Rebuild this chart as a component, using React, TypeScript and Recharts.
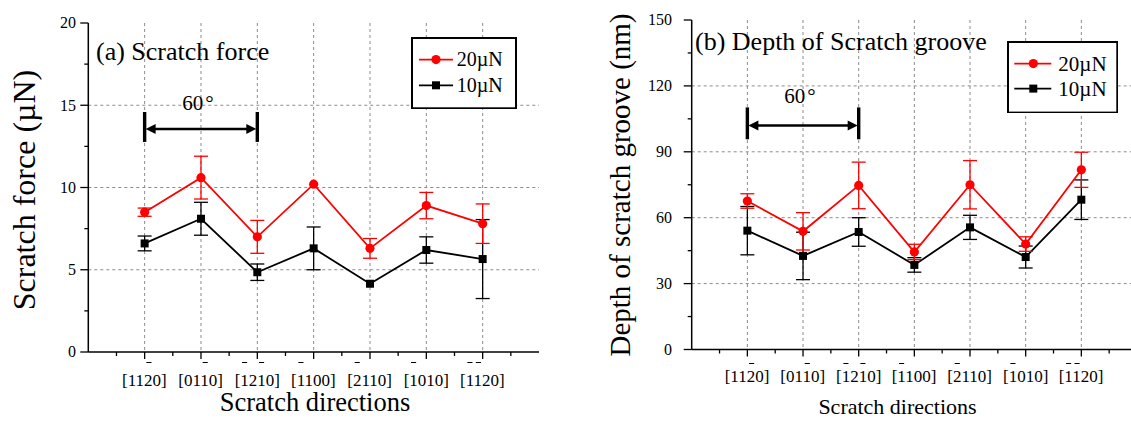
import React from 'react';
import { LineChart, Line, XAxis, YAxis, ErrorBar, CartesianGrid, ReferenceLine, ReferenceDot, Legend } from 'recharts';

const FONT = '"Liberation Serif", "Times New Roman", Times, serif';
const RED = '#ff0000';
const INK = '#000000';
const GRID = '#8c8c8c';
const serif = { fontFamily: FONT };

// scratch directions; a "-" puts an overbar on the next digit
const directions = ['[11-20]', '[01-10]', '[-12-10]', '[-1100]', '[-2110]', '[-1010]', '[-1-120]'];

// (a) scratch force, µN
const force20 = [8.5, 10.6, 7.0, 10.2, 6.3, 8.9, 7.8];
const force20Err = [0.25, 1.3, 1.0, 0.0, 0.6, 0.8, 1.2];
const force10 = [6.6, 8.1, 4.85, 6.3, 4.15, 6.2, 5.65];
const force10Err = [0.45, 1.0, 0.5, 1.3, 0.0, 0.8, 2.4];

// (b) depth of scratch groove, nm
const depth20 = [67.6, 53.8, 74.7, 44.4, 75.0, 48.0, 81.8];
const depth20Err = [3.3, 8.5, 10.6, 3.5, 11.0, 3.3, 8.0];
const depth10 = [54.1, 42.6, 53.5, 38.5, 55.6, 42.1, 68.2];
const depth10Err = [11.0, 10.8, 6.5, 3.3, 5.5, 5.0, 9.0];

const forceTicks = [0, 5, 10, 15, 20];
const depthTicks = [0, 30, 60, 90, 120, 150];
const legendLabels = ['20µN', '10µN'];

const withMinor = (major: number[]) =>
  major.flatMap((v, i) => (i === 0 ? [v] : [(major[i - 1] + v) / 2, v]));

const xMajor = directions.map((_, i) => i + 1);
const xMax = directions.length + 1;
const xTicks = withMinor([0, ...xMajor, xMax]).filter((v) => v > 0 && v < xMax);

const isMajor = (v: number, step: number) => Math.abs(v / step - Math.round(v / step)) < 1e-6;

const parseMiller = (s: string) => {
  const out: { ch: string; bar: boolean }[] = [];
  let bar = false;
  for (const ch of s) {
    if (ch === '-') { bar = true; continue; }
    out.push({ ch, bar });
    bar = false;
  }
  return out;
};

// bottom axis: outward ticks + Miller index labels with overbars
const XTick = (props: any) => {
  const { x, y, payload, fs, ldy, bdy } = props;
  const v = payload.value as number;
  if (!isMajor(v, 1)) {
    return <line x1={x} x2={x} y1={y} y2={y + 4} stroke={INK} strokeWidth={1.3} />;
  }
  const chars = parseMiller(directions[Math.round(v) - 1]);
  const widths = chars.map((c) => (c.ch === '[' || c.ch === ']' ? 0.333 : 0.5) * fs);
  const total = widths.reduce((a, b) => a + b, 0);
  let cx = x - total / 2;
  const bars: React.ReactNode[] = [];
  chars.forEach((c, i) => {
    if (c.bar) {
      bars.push(
        <line key={i} x1={cx + widths[i] * 0.2} x2={cx + widths[i] * 0.8} y1={y + bdy} y2={y + bdy} stroke={INK} strokeWidth={1} />
      );
    }
    cx += widths[i];
  });
  return (
    <g>
      <line x1={x} x2={x} y1={y} y2={y + 7} stroke={INK} strokeWidth={1.3} />
      <text x={x - total / 2} y={y + ldy} fontSize={fs} style={serif} fill={INK} textAnchor="start">
        {chars.map((c) => c.ch).join('')}
      </text>
      {bars}
    </g>
  );
};

const TopTick = (props: any) => {
  const { x, y, payload } = props;
  const len = isMajor(payload.value, 1) ? 5 : 3;
  return <line x1={x} x2={x} y1={y} y2={y + len} stroke={INK} strokeWidth={1.3} />;
};

const YTick = (props: any) => {
  const { x, y, payload, step, gap } = props;
  const major = isMajor(payload.value, step);
  return (
    <g>
      <line x1={x - (major ? 8 : 4)} x2={x} y1={y} y2={y} stroke={INK} strokeWidth={1.3} />
      {major && (
        <text x={x - gap} y={y} dy="0.34em" fontSize={16} style={serif} fill={INK} textAnchor="end">
          {payload.value}
        </text>
      )}
    </g>
  );
};

const RightTick = (props: any) => {
  const { x, y, payload, step } = props;
  const len = isMajor(payload.value, step) ? 7 : 4;
  return <line x1={x - len} x2={x} y1={y} y2={y} stroke={INK} strokeWidth={1.3} />;
};

const AxisTitle = (props: any) => {
  const { px, py, size, text, vertical } = props;
  return (
    <text
      x={px}
      y={py}
      fontSize={size}
      style={serif}
      fill={INK}
      textAnchor="middle"
      dy={vertical ? '0.32em' : 0}
      transform={vertical ? `rotate(-90 ${px} ${py})` : undefined}
    >
      {text}
    </text>
  );
};

const SquareDot = (props: any) => {
  const { cx, cy, index } = props;
  if (cx == null || cy == null) return <g key={index} />;
  return <rect key={index} x={cx - 4} y={cy - 4} width={8} height={8} fill={INK} />;
};

const CircleDot = (props: any) => {
  const { cx, cy, index } = props;
  if (cx == null || cy == null) return <g key={index} />;
  return <circle key={index} cx={cx} cy={cy} r={4.6} fill={RED} />;
};

const DoubleArrow = (props: any) => {
  const { x1, y1, x2 } = props;
  const head = 11;
  const half = 5;
  return (
    <g>
      <line x1={x1 + head - 1} x2={x2 - head + 1} y1={y1} y2={y1} stroke={INK} strokeWidth={2.6} />
      <polygon points={`${x1 + 1},${y1} ${x1 + head},${y1 - half} ${x1 + head},${y1 + half}`} fill={INK} />
      <polygon points={`${x2 - 1},${y1} ${x2 - head},${y1 - half} ${x2 - head},${y1 + half}`} fill={INK} />
    </g>
  );
};

type PanelCfg = {
  left: number;
  width: number;
  margin: { top: number; right: number; bottom: number; left: number };
  yWidth: number;
  xHeight: number;
  yMajor: number[];
  hi: number[];
  hiErr: number[];
  lo: number[];
  loErr: number[];
  title: string;
  titleOffset: [number, number];
  yLabel: string;
  yLabelAt: [number, number, number];
  xLabel: string;
  xLabelAt: [number, number, number];
  tickFont: number;
  labelDy: number;
  barDy: number;
  yGap: number;
  arrow: { y: number; lo: number; hi: number; textY: number };
  legend: { left: number; top: number; w: number; h: number; rows: number[]; x1: number; x2: number; mx: number; tx: number; fs: number };
};

const Panel = ({ cfg }: { cfg: PanelCfg }) => {
  const step = cfg.yMajor[1] - cfg.yMajor[0];
  const yMax = cfg.yMajor[cfg.yMajor.length - 1];
  const yTicks = withMinor(cfg.yMajor);
  const data = directions.map((d, i) => ({
    pos: i + 1,
    name: d,
    hi: cfg.hi[i],
    hiErr: cfg.hiErr[i],
    lo: cfg.lo[i],
    loErr: cfg.loErr[i],
  }));
  const lg = cfg.legend;

  const legendContent = () => (
    <svg width={lg.w} height={lg.h} style={{ display: 'block' }}>
      <rect x={1} y={1} width={lg.w - 2} height={lg.h - 2} fill="#fff" stroke={INK} strokeWidth={2} />
      {legendLabels.map((label, i) => {
        const y = lg.rows[i];
        const color = i === 0 ? RED : INK;
        return (
          <g key={label}>
            <line x1={lg.x1} x2={lg.x2} y1={y} y2={y} stroke={color} strokeWidth={1.8} />
            {i === 0 ? (
              <circle cx={lg.mx} cy={y} r={4.6} fill={RED} />
            ) : (
              <rect x={lg.mx - 4} y={y - 4} width={8} height={8} fill={INK} />
            )}
            <text x={lg.tx} y={y} dy="0.34em" fontSize={lg.fs} style={serif} fill={INK}>
              {label}
            </text>
          </g>
        );
      })}
    </svg>
  );

  return (
    <div style={{ position: 'absolute', left: cfg.left, top: 0 }}>
      <LineChart width={cfg.width} height={421} data={data} margin={cfg.margin}>
        <CartesianGrid
          stroke={GRID}
          strokeDasharray="3 3"
          verticalValues={xMajor}
          horizontalValues={cfg.yMajor.slice(1, -1)}
        />
        <XAxis
          dataKey="pos"
          type="number"
          domain={[0, xMax]}
          ticks={xTicks}
          interval={0}
          height={cfg.xHeight}
          tickSize={0}
          tickMargin={0}
          tickLine={false}
          axisLine={{ stroke: INK, strokeWidth: 1.5 }}
          tick={<XTick fs={cfg.tickFont} ldy={cfg.labelDy} bdy={cfg.barDy} />}
          label={<AxisTitle px={cfg.xLabelAt[0]} py={cfg.xLabelAt[1]} size={cfg.xLabelAt[2]} text={cfg.xLabel} />}
        />
        <XAxis
          xAxisId="top"
          dataKey="pos"
          type="number"
          orientation="top"
          domain={[0, xMax]}
          ticks={xTicks}
          interval={0}
          height={0}
          tickSize={0}
          tickMargin={0}
          tickLine={false}
          axisLine={{ stroke: INK, strokeWidth: 1.5 }}
          tick={<TopTick />}
        />
        <YAxis
          type="number"
          domain={[0, yMax]}
          ticks={yTicks}
          interval={0}
          width={cfg.yWidth}
          allowDataOverflow
          tickSize={0}
          tickMargin={0}
          tickLine={false}
          axisLine={{ stroke: INK, strokeWidth: 1.5 }}
          tick={<YTick step={step} gap={cfg.yGap} />}
          label={<AxisTitle px={cfg.yLabelAt[0]} py={cfg.yLabelAt[1]} size={cfg.yLabelAt[2]} text={cfg.yLabel} vertical />}
        />
        <YAxis
          yAxisId="right"
          orientation="right"
          type="number"
          domain={[0, yMax]}
          ticks={yTicks}
          interval={0}
          width={0}
          allowDataOverflow
          tickSize={0}
          tickMargin={0}
          tickLine={false}
          axisLine={{ stroke: INK, strokeWidth: 1.5 }}
          tick={<RightTick step={step} />}
        />
        <ReferenceLine
          segment={[{ x: 1, y: cfg.arrow.y }, { x: 3, y: cfg.arrow.y }]}
          stroke={INK}
          ifOverflow="visible"
          shape={DoubleArrow}
        />
        <ReferenceLine
          segment={[{ x: 1, y: cfg.arrow.lo }, { x: 1, y: cfg.arrow.hi }]}
          stroke={INK}
          strokeWidth={3.4}
          ifOverflow="visible"
        />
        <ReferenceLine
          segment={[{ x: 3, y: cfg.arrow.lo }, { x: 3, y: cfg.arrow.hi }]}
          stroke={INK}
          strokeWidth={3.4}
          ifOverflow="visible"
        />
        <ReferenceDot
          x={2}
          y={cfg.arrow.textY}
          r={0}
          ifOverflow="visible"
          shape={(p: any) => (
            <text x={p.cx - 3} y={p.cy} fontSize={21} style={serif} fill={INK} textAnchor="middle">
              60<tspan dx={2}>°</tspan>
            </text>
          )}
        />
        <ReferenceDot
          x={0}
          y={yMax}
          r={0}
          ifOverflow="visible"
          shape={(p: any) => (
            <text x={p.cx + cfg.titleOffset[0]} y={p.cy + cfg.titleOffset[1]} fontSize={26} style={serif} fill={INK}>
              {cfg.title}
            </text>
          )}
        />
        <Line
          type="linear"
          dataKey="lo"
          stroke={INK}
          strokeWidth={1.8}
          dot={SquareDot}
          activeDot={false}
          isAnimationActive={false}
        >
          <ErrorBar dataKey="loErr" width={7} stroke={INK} strokeWidth={1.3} direction="y" />
        </Line>
        <Line
          type="linear"
          dataKey="hi"
          stroke={RED}
          strokeWidth={1.8}
          dot={CircleDot}
          activeDot={false}
          isAnimationActive={false}
        >
          <ErrorBar dataKey="hiErr" width={7} stroke={RED} strokeWidth={1.3} direction="y" />
        </Line>
        <Legend
          layout="vertical"
          align="center"
          verticalAlign="middle"
          content={legendContent}
          wrapperStyle={{ left: lg.left, top: lg.top, width: lg.w, height: lg.h }}
        />
      </LineChart>
    </div>
  );
};

const forcePanel: PanelCfg = {
  left: 0,
  width: 600,
  margin: { top: 23, right: 61, bottom: 0, left: 28.3 },
  yWidth: 60,
  xHeight: 69,
  yMajor: forceTicks,
  hi: force20,
  hiErr: force20Err,
  lo: force10,
  loErr: force10Err,
  title: '(a) Scratch force',
  titleOffset: [7.7, 37],
  yLabel: 'Scratch force (µN)',
  yLabelAt: [25, 190, 32],
  xLabel: 'Scratch directions',
  xLabelAt: [315, 411, 26.5],
  tickFont: 17,
  labelDy: 33.5,
  barDy: 10.5,
  yGap: 12.3,
  arrow: { y: 13.56, lo: 12.77, hi: 14.59, textY: 14.71 },
  legend: { left: 411, top: 36.7, w: 106, h: 72.3, rows: [22.6, 48.3], x1: 8, x2: 42, mx: 25, tx: 45.7, fs: 20 },
};

const depthPanel: PanelCfg = {
  left: 600,
  width: 560,
  margin: { top: 20, right: 23, bottom: 0, left: 21.7 },
  yWidth: 70,
  xHeight: 71.5,
  yMajor: depthTicks,
  hi: depth20,
  hiErr: depth20Err,
  lo: depth10,
  loErr: depth10Err,
  title: '(b) Depth of Scratch groove',
  titleOffset: [3.3, 29.5],
  yLabel: 'Depth of scratch groove (nm)',
  yLabelAt: [21, 185, 29],
  xLabel: 'Scratch directions',
  xLabelAt: [297.5, 414, 22],
  tickFont: 17,
  labelDy: 32.5,
  barDy: 14,
  yGap: 19.7,
  arrow: { y: 102, lo: 95.7, hi: 110.2, textY: 112 },
  legend: { left: 406.7, top: 40.7, w: 111.3, h: 72.6, rows: [22.6, 47.6], x1: 7.3, x2: 44.3, mx: 26.3, tx: 51.3, fs: 21 },
};

export default function App() {
  return (
    <div style={{ position: 'absolute', left: 0, top: 0, width: 1131, height: 421, overflow: 'hidden', background: '#fff' }}>
      <Panel cfg={forcePanel} />
      <Panel cfg={depthPanel} />
    </div>
  );
}
